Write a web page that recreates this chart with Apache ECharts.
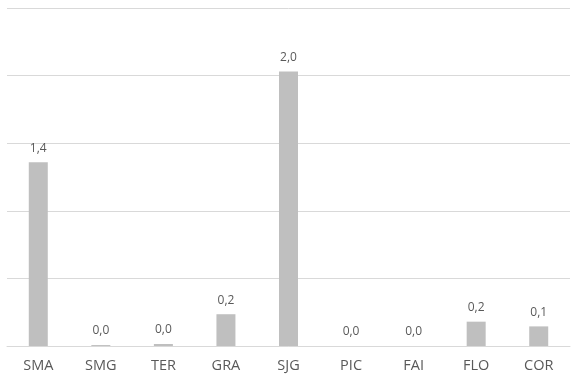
<!DOCTYPE html>
<html>
<head>
<meta charset="utf-8">
<script src="https://cdn.jsdelivr.net/npm/echarts@6/dist/echarts.min.js"></script>
<style>
  html, body { margin: 0; padding: 0; background: #fff; }
  #chart { width: 571px; height: 376px; }
</style>
</head>
<body>
<div id="chart"></div>
<script>
var categories = ['SMA', 'SMG', 'TER', 'GRA', 'SJG', 'PIC', 'FAI', 'FLO', 'COR'];
var values = [1.36, 0.007, 0.015, 0.235, 2.03, 0, 0, 0.18, 0.145];

var chartDom = document.getElementById('chart');
var myChart = echarts.init(chartDom);
var option;

option = {
    animation: false,
    grid: {
        left: 7,
        right: 1,
        top: 8,
        bottom: 30
    },
    xAxis: {
        type: 'category',
        data: categories,
        axisLine: { lineStyle: { color: '#d9d9d9' } },
        axisTick: { show: false },
        axisLabel: {
            color: '#595959',
            fontSize: 14.5,
            fontFamily: 'Open Sans',
            margin: 12
        }
    },
    yAxis: {
        type: 'value',
        min: 0,
        max: 2.5,
        interval: 0.5,
        axisLabel: { show: false },
        axisLine: { show: false },
        axisTick: { show: false },
        splitLine: { lineStyle: { color: '#d9d9d9' } }
    },
    series: [
        {
            type: 'bar',
            data: values,
            barWidth: 19,
            itemStyle: { color: '#bfbfbf' },
            label: {
                show: true,
                position: 'top',
                distance: 8,
                color: '#595959',
                fontSize: 12,
                fontFamily: 'Open Sans',
                formatter: function (p) {
                    return p.value.toFixed(1).replace('.', ',');
                }
            }
        }
    ]
};

option && myChart.setOption(option);
</script>
</body>
</html>
